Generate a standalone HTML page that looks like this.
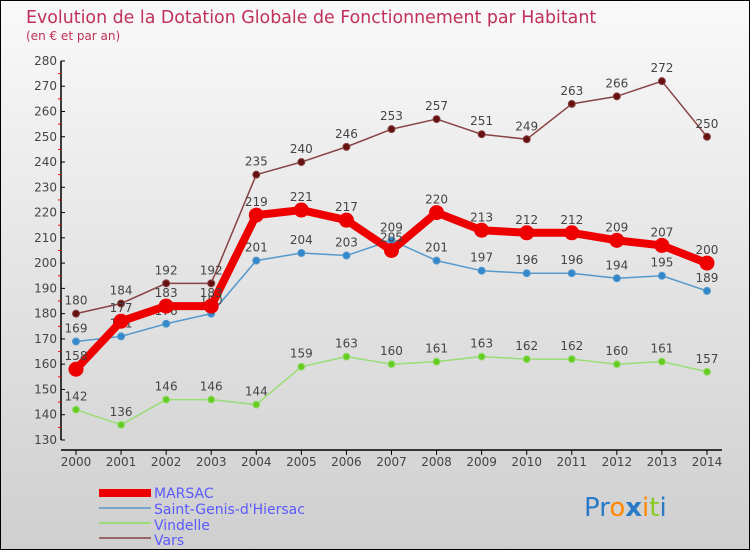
<!DOCTYPE html>
<html><head><meta charset="utf-8"><style>
html,body{margin:0;padding:0}
body{width:750px;height:550px;overflow:hidden;font-family:"DejaVu Sans","Liberation Sans",sans-serif}
#wrap{position:relative;width:748px;height:548px;border:1px solid #000;background:linear-gradient(#f9f9f9,#cfcfcf)}
</style></head><body>
<div id="wrap">
<svg id="chart" width="748" height="548" viewBox="1 1 748 548" xmlns="http://www.w3.org/2000/svg" style="position:absolute;left:0;top:0">
<text x="26" y="23" font-size="17.4" fill="#c0305a" font-family="DejaVu Sans,Liberation Sans,sans-serif">Evolution de la Dotation Globale de Fonctionnement par Habitant</text>
<text x="26" y="40" font-size="12" fill="#c0305a">(en € et par an)</text>
<g id="axes"></g>
<g id="series"></g>
<g id="legend" font-size="14" fill="#5a5aff">
<rect x="99" y="489" width="52" height="8" fill="#ee0000"/>
<text x="154" y="498" fill="#5a5aff">MARSAC</text>
<line x1="99" y1="508" x2="151" y2="508" stroke="#7aa6cc" stroke-width="2"/>
<text x="154" y="514" fill="#5a5aff">Saint-Genis-d'Hiersac</text>
<line x1="99" y1="523" x2="151" y2="523" stroke="#99dd77" stroke-width="2"/>
<text x="154" y="530" fill="#5a5aff">Vindelle</text>
<line x1="99" y1="538" x2="151" y2="538" stroke="#996666" stroke-width="2"/>
<text x="154" y="545" fill="#5a5aff">Vars</text>
</g>
<g font-size="26" font-family="DejaVu Sans,sans-serif">
<text x="584" y="516"><tspan fill="#2a7ac8">Pr</tspan><tspan fill="#ff8800">o</tspan><tspan fill="#2a7ac8" font-weight="bold">x</tspan><tspan fill="#ff8800">i</tspan><tspan fill="#88cc22">t</tspan><tspan fill="#2a7ac8">i</tspan></text>
</g>
</svg>
</div>
<script>
const years=[2000,2001,2002,2003,2004,2005,2006,2007,2008,2009,2010,2011,2012,2013,2014];
const marsac=[158,177,183,183,219,221,217,205,220,213,212,212,209,207,200];
const saintGenis=[169,171,176,180,201,204,203,209,201,197,196,196,194,195,189];
const vindelle=[142,136,146,146,144,159,163,160,161,163,162,162,160,161,157];
const vars=[180,184,192,192,235,240,246,253,257,251,249,263,266,272,250];
const yTicks=[130,140,150,160,170,180,190,200,210,220,230,240,250,260,270,280];
const NS="http://www.w3.org/2000/svg";
const x0=76,dx=45.07;
function xs(i){return x0+i*dx;}
function ys(v){return 440-(v-130)*2.527;}
function mk(tag,attrs,parent){const e=document.createElementNS(NS,tag);for(const k in attrs)e.setAttribute(k,attrs[k]);parent.appendChild(e);return e;}
const axes=document.getElementById('axes');
let yl=mk('line',{x1:61,y1:ys(280),x2:61,y2:ys(130),stroke:'#000','stroke-width':1.5},axes);


yTicks.forEach(t=>{
 mk('line',{x1:61,y1:ys(t),x2:65,y2:ys(t),stroke:'#000'},axes);
 if(t<280){const m=mk('line',{x1:58,y1:ys(t+5),x2:61,y2:ys(t+5),stroke:'#e00'},axes);}
 const tx=mk('text',{x:57,y:ys(t)+4,'text-anchor':'end','font-size':12,fill:'#444'},axes);
 tx.textContent=t;
 
 
});
let xl=mk('line',{x1:61,y1:450,x2:722,y2:450,stroke:'#000','stroke-width':1.5},axes);


years.forEach((y,i)=>{
 mk('line',{x1:xs(i),y1:450,x2:xs(i),y2:455,stroke:'#000'},axes);
 const tx=mk('text',{x:xs(i),y:466,'text-anchor':'middle','font-size':12,fill:'#444'},axes);
 tx.textContent=y;
 
 
});
const sg=document.getElementById('series');
function draw(vals,name,color,dot,w,r){
 const g=mk('g',{},sg);
 
 
 const p=mk('polyline',{points:vals.map((v,i)=>xs(i)+','+ys(v)).join(' '),fill:'none',stroke:color,'stroke-width':w,'stroke-linejoin':'round'},g);
 
 
 vals.forEach((v,i)=>{
  const c=mk('circle',{cx:xs(i),cy:ys(v),r:r,fill:dot,stroke:color,'stroke-width':1},g);
  
  
  const t=mk('text',{x:xs(i),y:ys(v)-9,'text-anchor':'middle','font-size':12,fill:'#444'},g);
  t.textContent=v;
  
  
 });
}
draw(vindelle,'vindelle','#99dd77','#66cc22',1.5,3.5);
draw(saintGenis,'saint-genis','#5599cc','#3388cc',1.5,3.5);
draw(vars,'vars','#884444','#661111',1.5,3.5);
draw(marsac,'marsac','#ee0000','#ee0000',8,7);
</script>
</body></html>
